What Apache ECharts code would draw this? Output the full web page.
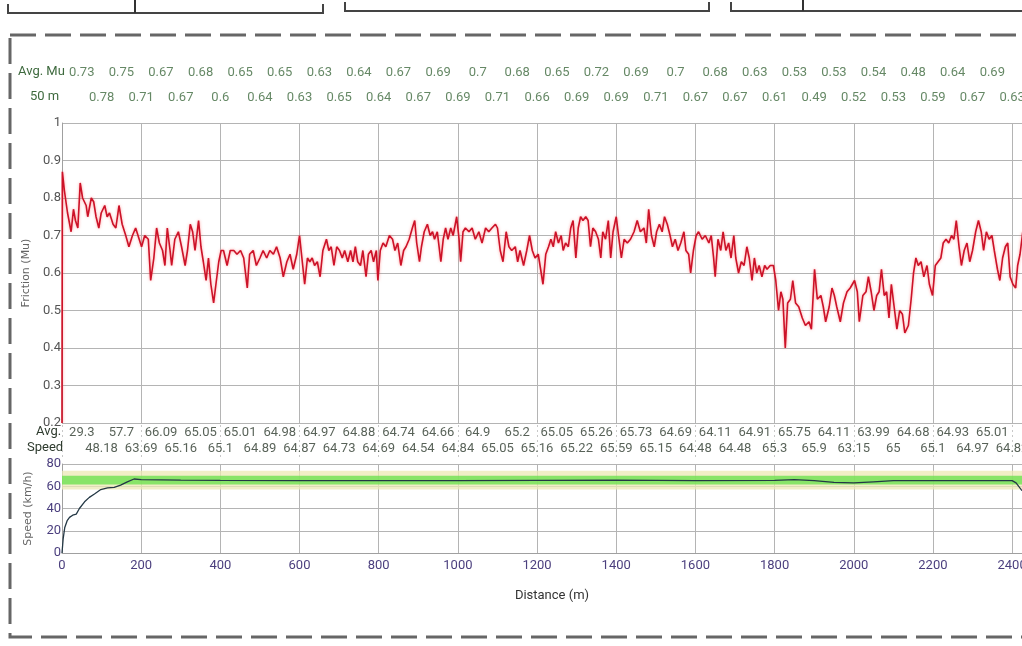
<!DOCTYPE html>
<html>
<head>
<meta charset="utf-8">
<script src="https://cdn.jsdelivr.net/npm/echarts@6.0.0/dist/echarts.min.js"></script>
<style>
  html, body { margin: 0; padding: 0; background: #fff; }
  #chart { width: 1022px; height: 646px; }
</style>
</head>
<body>
<div id="chart"></div>
<script>
// friction trace, [distance m, mu]
const frictionData = [
  [0, 0.2], [1, 0.87], [6, 0.82], [14, 0.76], [23, 0.71], [29, 0.77], [34, 0.74], [40, 0.72], [46, 0.84], [52, 0.80],
  [61, 0.78], [65, 0.75], [74, 0.80], [80, 0.79], [86, 0.75], [93, 0.72], [99, 0.76], [108, 0.78], [114, 0.75], [120, 0.76],
  [129, 0.73], [136, 0.72], [144, 0.78], [152, 0.73], [161, 0.70], [169, 0.67], [178, 0.70], [186, 0.72], [195, 0.69], [201, 0.67],
  [209, 0.70], [218, 0.69], [224, 0.58], [232, 0.64], [239, 0.72], [246, 0.68], [254, 0.66], [260, 0.62], [266, 0.72], [273, 0.66],
  [277, 0.62], [285, 0.69], [294, 0.71], [302, 0.67], [311, 0.62], [317, 0.66], [324, 0.73], [330, 0.71], [336, 0.66], [345, 0.74],
  [351, 0.67], [357, 0.63], [364, 0.58], [370, 0.64], [376, 0.57], [383, 0.52], [390, 0.58], [396, 0.63], [402, 0.66], [408, 0.66],
  [417, 0.62], [425, 0.66], [434, 0.66], [442, 0.65], [451, 0.66], [459, 0.64], [468, 0.56], [474, 0.65], [483, 0.66], [491, 0.62],
  [500, 0.64], [508, 0.66], [517, 0.64], [525, 0.66], [534, 0.65], [542, 0.67], [551, 0.64], [559, 0.59], [568, 0.63], [576, 0.65],
  [584, 0.61], [593, 0.65], [600, 0.70], [607, 0.63], [613, 0.57], [620, 0.64], [626, 0.63], [632, 0.64], [638, 0.62], [645, 0.63],
  [652, 0.59], [659, 0.66], [668, 0.69], [674, 0.66], [680, 0.67], [687, 0.62], [694, 0.67], [701, 0.66], [708, 0.64], [714, 0.66],
  [722, 0.63], [729, 0.66], [735, 0.63], [741, 0.67], [747, 0.63], [754, 0.62], [760, 0.66], [768, 0.59], [774, 0.65], [781, 0.66],
  [787, 0.63], [794, 0.66], [798, 0.58], [804, 0.66], [811, 0.68], [818, 0.67], [827, 0.70], [835, 0.69], [841, 0.66], [848, 0.68],
  [856, 0.62], [863, 0.66], [869, 0.67], [877, 0.69], [885, 0.72], [891, 0.74], [896, 0.68], [903, 0.63], [908, 0.67], [915, 0.71],
  [923, 0.73], [930, 0.70], [936, 0.71], [941, 0.69], [948, 0.71], [957, 0.63], [963, 0.69], [969, 0.72], [975, 0.69], [982, 0.72],
  [988, 0.70], [997, 0.75], [1003, 0.69], [1007, 0.63], [1013, 0.71], [1019, 0.72], [1028, 0.71], [1036, 0.72], [1044, 0.69], [1053, 0.71],
  [1061, 0.68], [1070, 0.72], [1078, 0.71], [1086, 0.72], [1095, 0.73], [1100, 0.72], [1107, 0.66], [1114, 0.63], [1122, 0.71], [1129, 0.67],
  [1136, 0.66], [1145, 0.67], [1151, 0.63], [1157, 0.66], [1166, 0.62], [1174, 0.66], [1181, 0.70], [1188, 0.66], [1195, 0.64], [1203, 0.65],
  [1215, 0.57], [1222, 0.65], [1229, 0.67], [1235, 0.69], [1241, 0.67], [1247, 0.71], [1254, 0.68], [1261, 0.70], [1266, 0.66], [1272, 0.68],
  [1279, 0.67], [1285, 0.72], [1291, 0.74], [1298, 0.64], [1304, 0.72], [1310, 0.75], [1316, 0.74], [1323, 0.75], [1329, 0.74], [1335, 0.67],
  [1341, 0.72], [1348, 0.71], [1355, 0.69], [1361, 0.64], [1366, 0.71], [1373, 0.69], [1380, 0.74], [1386, 0.64], [1392, 0.71], [1400, 0.75],
  [1407, 0.69], [1413, 0.64], [1420, 0.69], [1428, 0.68], [1436, 0.69], [1445, 0.71], [1453, 0.74], [1461, 0.71], [1470, 0.72], [1476, 0.68],
  [1482, 0.77], [1489, 0.70], [1496, 0.67], [1502, 0.71], [1509, 0.73], [1516, 0.71], [1522, 0.75], [1529, 0.73], [1536, 0.70], [1542, 0.67],
  [1549, 0.69], [1556, 0.66], [1563, 0.68], [1571, 0.71], [1576, 0.66], [1583, 0.65], [1588, 0.60], [1595, 0.66], [1602, 0.70], [1608, 0.71],
  [1617, 0.69], [1625, 0.70], [1634, 0.68], [1640, 0.70], [1646, 0.64], [1650, 0.59], [1657, 0.69], [1664, 0.66], [1670, 0.71], [1677, 0.66],
  [1684, 0.68], [1690, 0.64], [1697, 0.70], [1702, 0.64], [1709, 0.60], [1716, 0.63], [1723, 0.62], [1730, 0.67], [1736, 0.64], [1743, 0.58],
  [1749, 0.64], [1755, 0.60], [1761, 0.62], [1768, 0.59], [1775, 0.62], [1781, 0.61], [1789, 0.62], [1797, 0.62], [1803, 0.58], [1810, 0.50],
  [1816, 0.55], [1821, 0.53], [1827, 0.40], [1833, 0.52], [1840, 0.53], [1846, 0.58], [1853, 0.52], [1861, 0.51], [1870, 0.48], [1878, 0.46],
  [1887, 0.47], [1893, 0.45], [1901, 0.61], [1908, 0.53], [1917, 0.54], [1923, 0.51], [1929, 0.47], [1938, 0.51], [1945, 0.56], [1951, 0.54],
  [1957, 0.51], [1966, 0.47], [1974, 0.52], [1983, 0.55], [1991, 0.56], [2002, 0.58], [2009, 0.55], [2014, 0.47], [2023, 0.54], [2031, 0.55],
  [2037, 0.59], [2044, 0.55], [2051, 0.50], [2058, 0.54], [2064, 0.55], [2070, 0.61], [2077, 0.54], [2083, 0.55], [2089, 0.48], [2095, 0.57],
  [2102, 0.51], [2109, 0.45], [2116, 0.50], [2123, 0.49], [2129, 0.44], [2138, 0.46], [2145, 0.53], [2151, 0.60], [2157, 0.64], [2163, 0.62],
  [2170, 0.63], [2177, 0.59], [2185, 0.62], [2191, 0.57], [2199, 0.54], [2206, 0.62], [2213, 0.63], [2220, 0.64], [2226, 0.68], [2233, 0.69],
  [2240, 0.68], [2247, 0.70], [2253, 0.69], [2259, 0.74], [2266, 0.67], [2272, 0.62], [2279, 0.66], [2286, 0.68], [2293, 0.63], [2300, 0.66],
  [2308, 0.71], [2315, 0.74], [2322, 0.71], [2328, 0.66], [2335, 0.71], [2342, 0.69], [2349, 0.70], [2355, 0.66], [2363, 0.61], [2369, 0.58],
  [2376, 0.64], [2383, 0.67], [2389, 0.68], [2395, 0.59], [2402, 0.57], [2409, 0.56], [2414, 0.62], [2420, 0.65], [2427, 0.71]
]

// speed trace, [distance m, km/h]
const speedData = [
  [0, 0], [3, 13], [7, 23], [13, 29], [19, 32], [27, 34], [36, 35], [44, 40], [57, 46], [69, 50],
  [82, 53], [98, 57], [115, 58.5], [132, 59], [148, 61], [165, 64], [182, 66.5], [200, 66], [300, 65.5], [400, 65.2],
  [600, 65], [800, 65], [1000, 65], [1200, 65.2], [1400, 65.5], [1600, 65], [1800, 65.3], [1850, 66], [1900, 65], [1950, 63.5],
  [2000, 63], [2050, 64], [2100, 65], [2200, 65], [2300, 65], [2400, 65], [2410, 63], [2425, 56]
]
const speedBandOuter = [57, 74]
const speedBandInner = [61.5, 69.5]

// 100 m averages, first row sits on 50, 150, ... second row on 100, 200, ...
const avgMuRow1 = [0.73, 0.75, 0.67, 0.68, 0.65, 0.65, 0.63, 0.64, 0.67, 0.69, 0.7, 0.68, 0.65, 0.72, 0.69, 0.7, 0.68, 0.63, 0.53, 0.53, 0.54, 0.48, 0.64, 0.69]
const avgMuRow2 = [0.78, 0.71, 0.67, 0.6, 0.64, 0.63, 0.65, 0.64, 0.67, 0.69, 0.71, 0.66, 0.69, 0.69, 0.71, 0.67, 0.67, 0.61, 0.49, 0.52, 0.53, 0.59, 0.67, 0.63]
const avgSpeedRow1 = ['29.3', '57.7', '66.09', '65.05', '65.01', '64.98', '64.97', '64.88', '64.74', '64.66', '64.9', '65.2', '65.05', '65.26', '65.73', '64.69', '64.11', '64.91', '65.75', '64.11', '63.99', '64.68', '64.93', '65.01']
const avgSpeedRow2 = ['48.18', '63.69', '65.16', '65.1', '64.89', '64.87', '64.73', '64.69', '64.54', '64.84', '65.05', '65.16', '65.22', '65.59', '65.15', '64.48', '64.48', '65.3', '65.9', '63.15', '65', '65.1', '64.97', '64.82']

const X_MAX = 2425
const NARROW = "'Liberation Sans Narrow', 'Roboto', 'Liberation Sans', sans-serif"
const WIDE = "'DejaVu Sans', Verdana, sans-serif"
const GRID_COLOR = '#b4b4b4'
const PURPLE = '#4b3f7e'

const myChart = echarts.init(document.getElementById('chart'))

const rowPoints = (vals, offset, y) => vals.map((v, i) => [i * 100 + offset, y, v])

const textRow = (vals, offset, y, axis, color) => ({
  type: 'scatter',
  xAxisIndex: axis,
  yAxisIndex: axis,
  silent: true,
  symbolSize: 1,
  itemStyle: { color: 'rgba(0,0,0,0)' },
  data: rowPoints(vals, offset, y),
  label: {
    show: true,
    position: 'inside',
    formatter: (p) => String(p.value[2]),
    color: color,
    fontSize: 13,
    fontFamily: NARROW
  }
})

const xBase = (idx) => ({
  type: 'value',
  gridIndex: idx,
  min: 0,
  max: X_MAX,
  interval: 200
})

const gridBase = { left: 62, width: 960, outerBoundsMode: 'none', containLabel: false }

const option = {
  backgroundColor: '#fff',
  animation: false,
  grid: [
    { ...gridBase, top: 123, height: 300 }, // friction
    { ...gridBase, top: 60, height: 50 }, // mu header
    { ...gridBase, top: 425, height: 32 }, // speed header
    { ...gridBase, top: 464, height: 89 } // speed
  ],
  xAxis: [
    {
      ...xBase(0),
      axisLine: { show: false },
      axisTick: { show: false },
      axisLabel: { show: false },
      splitLine: { lineStyle: { color: GRID_COLOR, width: 1 } }
    },
    { ...xBase(1), show: false },
    {
      ...xBase(2),
      axisLine: { show: false },
      axisTick: { show: false },
      axisLabel: { show: false },
      splitLine: { lineStyle: { color: '#c8c8c8', type: [2, 3] } }
    },
    {
      ...xBase(3),
      axisLine: { lineStyle: { color: '#a0a0a0' } },
      axisTick: { show: false },
      axisLabel: {
        color: PURPLE,
        fontSize: 13,
        fontFamily: NARROW,
        margin: 6,
        showMaxLabel: false,
        formatter: (v) => String(v)
      },
      splitLine: { lineStyle: { color: GRID_COLOR } },
      name: 'Distance (m)',
      nameLocation: 'middle',
      nameGap: 36,
      nameTextStyle: { color: '#333', fontSize: 13, fontFamily: NARROW, padding: [0, 0, 0, 20] }
    }
  ],
  yAxis: [
    {
      type: 'value',
      gridIndex: 0,
      min: 0.2,
      max: 1,
      interval: 0.1,
      axisLine: { show: true, lineStyle: { color: '#a0a0a0' } },
      axisTick: { show: false },
      axisLabel: { color: '#555', fontSize: 13, fontFamily: NARROW, margin: 1 },
      splitLine: { lineStyle: { color: GRID_COLOR } },
      name: 'Friction (Mu)',
      nameLocation: 'middle',
      nameGap: 28,
      nameTextStyle: { color: '#666', fontSize: 11, fontFamily: WIDE }
    },
    { type: 'value', gridIndex: 1, min: 0, max: 1, show: false },
    { type: 'value', gridIndex: 2, min: 0, max: 1, show: false },
    {
      type: 'value',
      gridIndex: 3,
      min: 0,
      max: 80,
      interval: 20,
      axisLine: { show: true, lineStyle: { color: '#a0a0a0' } },
      axisTick: { show: false },
      axisLabel: { color: PURPLE, fontSize: 13, fontFamily: NARROW, margin: 1 },
      splitLine: { lineStyle: { color: GRID_COLOR } },
      name: 'Speed (km/h)',
      nameLocation: 'middle',
      nameGap: 28,
      nameTextStyle: { color: '#666', fontSize: 11, fontFamily: WIDE }
    }
  ],
  series: [
    {
      type: 'line',
      xAxisIndex: 0,
      yAxisIndex: 0,
      data: frictionData,
      showSymbol: false,
      silent: true,
      lineStyle: {
        color: '#cc1228',
        width: 1.6,
        shadowColor: 'rgba(255,90,90,0.6)',
        shadowBlur: 3
      }
    },
    textRow(avgMuRow1, 50, 0.75, 1, '#3e6a3e'),
    textRow(avgMuRow2, 100, 0.25, 1, '#3e6a3e'),
    textRow(avgSpeedRow1, 50, 0.75, 2, '#2e3b2e'),
    textRow(avgSpeedRow2, 100, 0.25, 2, '#2e3b2e'),
    {
      type: 'line',
      xAxisIndex: 3,
      yAxisIndex: 3,
      data: speedData,
      showSymbol: false,
      silent: true,
      z: 5,
      lineStyle: { color: '#243845', width: 1.3 },
      markArea: {
        silent: true,
        data: [
          [{ yAxis: speedBandOuter[0], itemStyle: { color: 'rgba(236,232,180,0.75)' } }, { yAxis: speedBandOuter[1] }],
          [{ yAxis: speedBandInner[0], itemStyle: { color: 'rgba(110,225,80,0.8)' } }, { yAxis: speedBandInner[1] }]
        ]
      }
    }
  ],
  graphic: [
    // dashed frame of the report panel
    {
      type: 'rect',
      silent: true,
      shape: { x: 10, y: 35, width: 1040, height: 602 },
      style: { fill: null, stroke: '#666', lineWidth: 3, lineDash: [26, 9] }
    },
    // bottoms of the boxes above the panel
    {
      type: 'polyline',
      silent: true,
      shape: { points: [[8, 4], [8, 13], [323, 13], [323, 4]] },
      style: { stroke: '#444', lineWidth: 2, fill: null }
    },
    { type: 'line', silent: true, shape: { x1: 135, y1: 0, x2: 135, y2: 13 }, style: { stroke: '#333', lineWidth: 2 } },
    {
      type: 'polyline',
      silent: true,
      shape: { points: [[345, 2], [345, 11], [709, 11], [709, 2]] },
      style: { stroke: '#444', lineWidth: 2, fill: null }
    },
    {
      type: 'polyline',
      silent: true,
      shape: { points: [[731, 2], [731, 11], [1030, 11]] },
      style: { stroke: '#444', lineWidth: 2, fill: null }
    },
    { type: 'line', silent: true, shape: { x1: 803, y1: 0, x2: 803, y2: 11 }, style: { stroke: '#333', lineWidth: 2 } },
    // row titles
    { type: 'text', silent: true, left: 18, top: 65, style: { text: 'Avg. Mu', fill: '#3e6a3e', font: '13px ' + NARROW } },
    { type: 'text', silent: true, left: 30, top: 90, style: { text: '50 m', fill: '#3e6a3e', font: '13px ' + NARROW } },
    { type: 'text', silent: true, left: 36, top: 425, style: { text: 'Avg.', fill: '#2e3b2e', font: '13px ' + NARROW } },
    { type: 'text', silent: true, left: 27, top: 441, style: { text: 'Speed', fill: '#2e3b2e', font: '13px ' + NARROW } }
  ]
}
myChart.setOption(option)
</script>
</body>
</html>
